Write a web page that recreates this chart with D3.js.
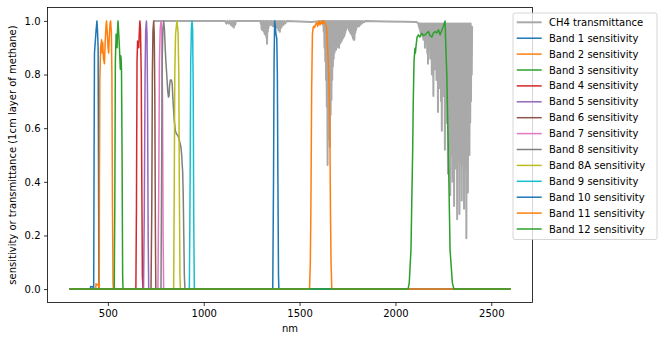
<!DOCTYPE html>
<html>
<head>
<meta charset="UTF-8">
<title>Sentinel-2 band sensitivity and CH4 transmittance</title>
<style>
  body { margin: 0; background: #fff; }
  svg text { font-family: "DejaVu Sans", sans-serif; font-size: 10px; fill: #000; }
</style>
</head>
<body>
<div id="chart"></div>

<script src="https://cdn.jsdelivr.net/npm/d3@7"></script>
<script>
// ---- data: [wavelength nm, value] ----
var ch4Transmittance = [
  [740,1],[1100,1],[1112,1],[1118,0.99],[1124,1],[1130,0.99],[1136,1],[1142,0.985],[1146,1],[1150,0.98],
  [1154,1],[1157,0.975],[1160,1],[1164,0.985],[1168,1],[1296,1],
  [1298,0.99],[1300,1],[1302,0.97],[1304,1],[1306,0.965],[1308,0.99],[1310,0.975],[1312,1],[1314,0.96],
  [1316,0.99],[1318,0.95],[1320,1],[1322,0.96],[1324,0.99],[1326,0.94],[1328,1],[1330,0.915],[1332,0.99],
  [1334,0.96],[1336,1],[1338,0.975],[1340,0.99],[1342,0.985],[1346,1],[1350,0.985],[1354,1],[1360,0.98],
  [1364,1],[1370,0.98],[1374,1],[1380,0.975],[1384,1],[1390,0.965],[1394,1],[1397,0.96],[1400,1],
  [1405,0.975],[1410,1],[1415,0.985],[1420,1],[1425,0.99],[1432,1],[1500,0.998],[1560,0.996],[1616,1],
  [1618,0.995],[1620,1],[1622,0.985],[1624,1],[1626,0.96],[1628,1],[1630,0.9],[1632,0.99],[1634,0.85],
  [1636,1],[1638,0.78],[1640,0.99],[1642,0.68],[1644,1],[1646,0.463],[1648,0.98],[1650,0.6],[1652,1],
  [1654,0.56],[1656,0.98],[1658,0.531],[1660,1],[1662,0.65],[1664,0.99],[1666,0.705],[1668,1],[1670,0.78],
  [1672,0.99],[1674,0.83],[1676,1],[1678,0.86],[1680,0.99],[1682,0.88],[1684,1],[1686,0.89],[1688,0.99],
  [1690,0.892],[1692,1],[1694,0.9],[1696,0.99],[1698,0.905],[1700,1],[1702,0.91],[1704,0.99],[1706,0.9],
  [1708,1],[1710,0.915],[1712,0.99],[1714,0.92],[1716,1],[1718,0.923],[1720,0.99],[1722,0.93],[1724,1],
  [1726,0.935],[1728,0.99],[1730,0.94],[1732,1],[1734,0.945],[1736,0.99],[1738,0.955],[1740,1],[1742,0.965],
  [1744,0.99],[1746,0.975],[1748,1],[1750,0.98],[1752,0.99],[1754,0.973],[1756,1],[1758,0.965],[1760,0.99],
  [1762,0.96],[1764,1],[1766,0.955],[1768,0.99],[1770,0.95],[1772,1],[1774,0.945],[1776,0.99],[1778,0.935],
  [1780,1],[1782,0.93],[1784,0.99],[1786,0.93],[1788,1],[1790,0.955],[1792,0.99],[1794,0.965],[1796,1],
  [1798,0.975],[1800,0.99],[1802,0.98],[1804,1],[1806,0.985],[1808,0.99],[1810,0.98],[1812,1],[1816,0.985],
  [1820,1],[1825,0.99],[1830,1],[1836,0.995],[1842,1],[1950,0.998],[2050,0.997],[2110,0.996],
  [2120,0.99],[2122,0.98],[2124,0.99],[2126,0.97],[2128,0.99],[2130,0.96],[2132,0.99],[2134,0.95],
  [2136,0.99],[2138,0.96],[2140,0.98],[2142,0.94],[2144,0.99],[2146,0.93],[2148,0.98],[2150,0.95],
  [2152,0.99],[2154,0.90],[2156,0.98],[2158,0.93],[2160,0.99],[2162,0.92],[2164,0.98],[2166,0.88],
  [2168,0.99],[2170,0.84],[2172,0.98],[2174,0.92],[2176,0.99],[2178,0.90],[2180,0.98],[2182,0.86],
  [2184,0.99],[2186,0.91],[2188,0.98],[2190,0.80],[2192,0.99],[2194,0.90],[2196,0.98],[2198,0.72],
  [2200,0.99],[2202,0.88],[2204,0.98],[2206,0.82],[2208,0.99],[2210,0.86],[2212,0.98],[2214,0.78],
  [2216,0.99],[2218,0.85],[2220,0.98],[2222,0.66],[2224,0.99],[2226,0.84],[2228,0.98],[2230,0.75],
  [2232,0.99],[2234,0.82],[2236,0.98],[2238,0.70],[2240,0.99],[2242,0.59],[2244,0.98],[2246,0.80],
  [2248,0.99],[2250,0.72],[2252,0.98],[2254,0.78],[2256,0.99],[2258,0.52],[2260,0.98],[2262,0.70],
  [2264,0.99],[2266,0.62],[2268,0.98],[2270,0.66],[2272,0.99],[2274,0.43],[2276,0.98],[2278,0.60],
  [2280,0.99],[2282,0.52],[2284,0.98],[2286,0.35],[2288,0.99],[2290,0.55],[2292,0.98],[2294,0.50],
  [2296,0.99],[2298,0.40],[2300,0.98],[2302,0.52],[2304,0.99],[2306,0.31],[2308,0.98],[2310,0.50],
  [2312,0.99],[2314,0.45],[2316,0.98],[2318,0.52],[2320,0.99],[2322,0.26],[2324,0.98],[2326,0.48],
  [2328,0.99],[2330,0.52],[2332,0.98],[2334,0.28],[2336,0.99],[2338,0.47],[2340,0.98],[2342,0.52],
  [2344,0.99],[2346,0.33],[2348,0.98],[2350,0.50],[2352,0.99],[2354,0.46],[2356,0.98],[2358,0.30],
  [2360,0.99],[2362,0.52],[2364,0.98],[2366,0.45],[2368,0.99],[2370,0.19],[2372,0.98],[2374,0.50],
  [2376,0.99],[2378,0.36],[2380,0.98],[2382,0.55],[2384,0.99],[2386,0.50],[2388,0.98],[2390,0.62],
  [2392,0.99],[2394,0.70],[2396,0.98],[2398,0.80],[2400,0.98]
];

var band1 = [[300,0],[408,0],[410,0.01],[420,0.008],[424,0.01],[425,0],[426,0],[428,0.5],[430,0.88],[434,0.92],
  [439,0.97],[443,1.0],[446,0.96],[449,0.9],[451,0.5],[453,0.03],[455,0],[2600,0]];
var band2 = [[300,0],[437,0],[438,0.02],[445,0.015],[452,0.02],[453,0],[455,0],[456,0.4],[458,0.78],[462,0.9],
  [467,0.93],[470,0.88],[473,0.92],[477,0.86],[482,0.84],[486,0.92],[490,0.98],[493,1.0],[497,0.95],[501,0.9],
  [504,0.88],[508,0.95],[511,0.99],[514,1.0],[518,0.96],[521,0.8],[524,0.3],[527,0.02],[529,0],[2600,0]];
var band3 = [[300,0],[533,0],[536,0.3],[539,0.85],[543,0.95],[546,0.93],[548,0.9],[550,0.96],[553,1.0],[556,0.96],
  [559,0.92],[562,0.87],[565,0.82],[567,0.87],[569,0.86],[571,0.82],[574,0.5],[577,0.05],[579,0],[2600,0]];
var band4 = [[300,0],[646,0],[649,0.3],[652,0.85],[655,0.925],[658,0.92],[661,0.9],[664,0.96],[667,1.0],[670,0.97],
  [674,0.8],[677,0.4],[680,0.05],[683,0],[2600,0]];
var band5 = [[300,0],[686,0],[690,0.3],[694,0.8],[697,0.96],[701,1.0],[704,0.95],[707,0.7],[710,0.2],[713,0],[2600,0]];
var band6 = [[300,0],[725,0],[729,0.3],[732,0.8],[735,0.96],[739,1.0],[742,0.95],[745,0.7],[748,0.2],[750,0],[2600,0]];
var band7 = [[300,0],[761,0],[765,0.35],[769,0.85],[773,0.97],[777,1.0],[781,0.97],[785,0.7],[788,0.2],[791,0],[2600,0]];
var band8 = [[300,0],[777,0],[780,0.4],[783,0.85],[787,0.97],[791,1.0],[795,0.97],[799,0.9],[802,0.855],[807,0.8],
  [812,0.74],[816,0.716],[819,0.72],[822,0.76],[826,0.78],[831,0.78],[835,0.77],[840,0.7],[846,0.63],[852,0.59],
  [857,0.58],[862,0.575],[867,0.57],[871,0.56],[876,0.545],[881,0.53],[885,0.5],[888,0.46],[890,0.44],[893,0.35],
  [896,0.2],[899,0.05],[902,0],[2600,0]];
var band8A = [[300,0],[843,0],[846,0.35],[849,0.8],[853,0.95],[860,1.0],[866,0.96],[870,0.8],[873,0.35],[876,0.05],
  [878,0],[2600,0]];
var band9 = [[300,0],[925,0],[929,0.4],[932,0.85],[936,0.98],[939,1.0],[942,0.97],[945,0.75],[948,0.25],[951,0],[2600,0]];
var band10 = [[300,0],[1360,0],[1364,0.4],[1367,0.85],[1370,1.0],[1373,0.98],[1377,0.95],[1381,0.935],[1384,0.8],
  [1387,0.4],[1390,0.05],[1392,0],[2600,0]];
var band11 = [[300,0],[1552,0],[1556,0.1],[1559,0.3],[1563,0.75],[1567,0.95],[1570,0.973],[1574,0.98],[1578,0.975],
  [1582,0.985],[1586,0.99],[1590,0.994],[1594,0.98],[1598,0.99],[1602,1.0],[1606,0.985],[1610,0.995],[1614,0.99],
  [1618,1.0],[1622,0.99],[1627,1.0],[1633,0.99],[1638,0.985],[1641,0.97],[1646,0.9],[1649,0.855],[1654,0.75],
  [1658,0.6],[1661,0.3],[1664,0.1],[1668,0],[2600,0]];
var band12 = [[300,0],[2066,0],[2072,0.023],[2081,0.146],[2090,0.52],[2093,0.7],[2097,0.85],[2100,0.88],[2102,0.898],
  [2104,0.88],[2108,0.91],[2113,0.94],[2120,0.948],[2128,0.94],[2137,0.954],[2146,0.945],[2155,0.948],[2163,0.955],
  [2172,0.96],[2181,0.945],[2190,0.94],[2198,0.955],[2207,0.96],[2216,0.955],[2224,0.967],[2233,0.948],[2242,0.965],
  [2250,0.98],[2259,1.0],[2263,0.9],[2268,0.8],[2272,0.65],[2276,0.52],[2285,0.146],[2297,0.023],[2305,0],[2600,0]];

var seriesNames = ["CH4 transmittance", "Band 1 sensitivity", "Band 2 sensitivity", "Band 3 sensitivity",
  "Band 4 sensitivity", "Band 5 sensitivity", "Band 6 sensitivity", "Band 7 sensitivity", "Band 8 sensitivity",
  "Band 8A sensitivity", "Band 9 sensitivity", "Band 10 sensitivity", "Band 11 sensitivity", "Band 12 sensitivity"];
var seriesData = [ch4Transmittance, band1, band2, band3, band4, band5, band6, band7, band8, band8A, band9,
  band10, band11, band12];
var xTicks = [500, 1000, 1500, 2000, 2500];
var yTicks = [0, 0.2, 0.4, 0.6, 0.8, 1.0];

// ---- styles ----
var tab10 = ["#1f77b4", "#ff7f0e", "#2ca02c", "#d62728", "#9467bd", "#8c564b", "#e377c2", "#7f7f7f", "#bcbd22", "#17becf"];
var colors = ["#a9a9a9"].concat(seriesNames.slice(1).map(function (d, i) { return tab10[i % 10]; }));
var widths = seriesNames.map(function (d, i) { return i === 0 ? 2 : 1.5; });

var W = 665, H = 344;
var plot = { left: 47.5, right: 532.5, top: 7.5, bottom: 302.5 };

var svg = d3.select("#chart").append("svg")
  .attr("width", W).attr("height", H);

var x = d3.scaleLinear().domain([185, 2715]).range([plot.left, plot.right]);
var y = d3.scaleLinear().domain([-0.05, 1.05]).range([plot.bottom, plot.top]);

// lines
var line = d3.line()
  .x(function (d) { return x(d[0]); })
  .y(function (d) { return y(d[1]); });

svg.append("g").selectAll("path")
  .data(seriesData)
  .enter().append("path")
  .attr("d", line)
  .attr("fill", "none")
  .attr("stroke", function (d, i) { return colors[i]; })
  .attr("stroke-width", function (d, i) { return widths[i]; })
  .attr("stroke-linejoin", "round");

// axes
var xAxis = svg.append("g")
  .attr("transform", "translate(0," + plot.bottom + ")")
  .call(d3.axisBottom(x).tickValues(xTicks).tickSize(3.5).tickPadding(3.5).tickFormat(d3.format("d")));
var yAxis = svg.append("g")
  .attr("transform", "translate(" + plot.left + ",0)")
  .call(d3.axisLeft(y).tickValues(yTicks).tickSize(3.5).tickPadding(3.5).tickFormat(d3.format(".1f")));

[xAxis, yAxis].forEach(function (g) {
  g.select(".domain").remove();
  g.selectAll("line").attr("stroke", "#000").attr("stroke-width", 0.8);
  g.selectAll("text").attr("font-family", "DejaVu Sans").attr("font-size", 10).attr("fill", "#000");
});

// frame
svg.append("rect")
  .attr("x", plot.left).attr("y", plot.top)
  .attr("width", plot.right - plot.left).attr("height", plot.bottom - plot.top)
  .attr("fill", "none").attr("stroke", "#000").attr("stroke-width", 0.8);

// axis labels
svg.append("text")
  .attr("x", (plot.left + plot.right) / 2).attr("y", 332)
  .attr("text-anchor", "middle")
  .text("nm");

svg.append("text")
  .attr("transform", "translate(16," + (plot.top + plot.bottom) / 2 + ") rotate(-90)")
  .attr("text-anchor", "middle")
  .text("sensitivity or transmittance (1cm layer of methane)");

// legend
var legend = svg.append("g").attr("transform", "translate(513,13)");
legend.append("rect")
  .attr("width", 144).attr("height", 226.5)
  .attr("rx", 2).attr("ry", 2)
  .attr("fill", "#fff").attr("fill-opacity", 0.8)
  .attr("stroke", "#cccccc").attr("stroke-width", 0.8);

var rows = legend.selectAll("g.row")
  .data(seriesNames)
  .enter().append("g")
  .attr("class", "row")
  .attr("transform", function (d, i) { return "translate(0," + (9.3 + i * 15.9) + ")"; });

rows.append("line")
  .attr("x1", 3.7).attr("x2", 28.7)
  .attr("stroke", function (d, i) { return colors[i]; })
  .attr("stroke-width", function (d, i) { return widths[i]; });

rows.append("text")
  .attr("x", 36).attr("dy", "0.35em")
  .text(function (d) { return d; });
</script>
</body>
</html>
